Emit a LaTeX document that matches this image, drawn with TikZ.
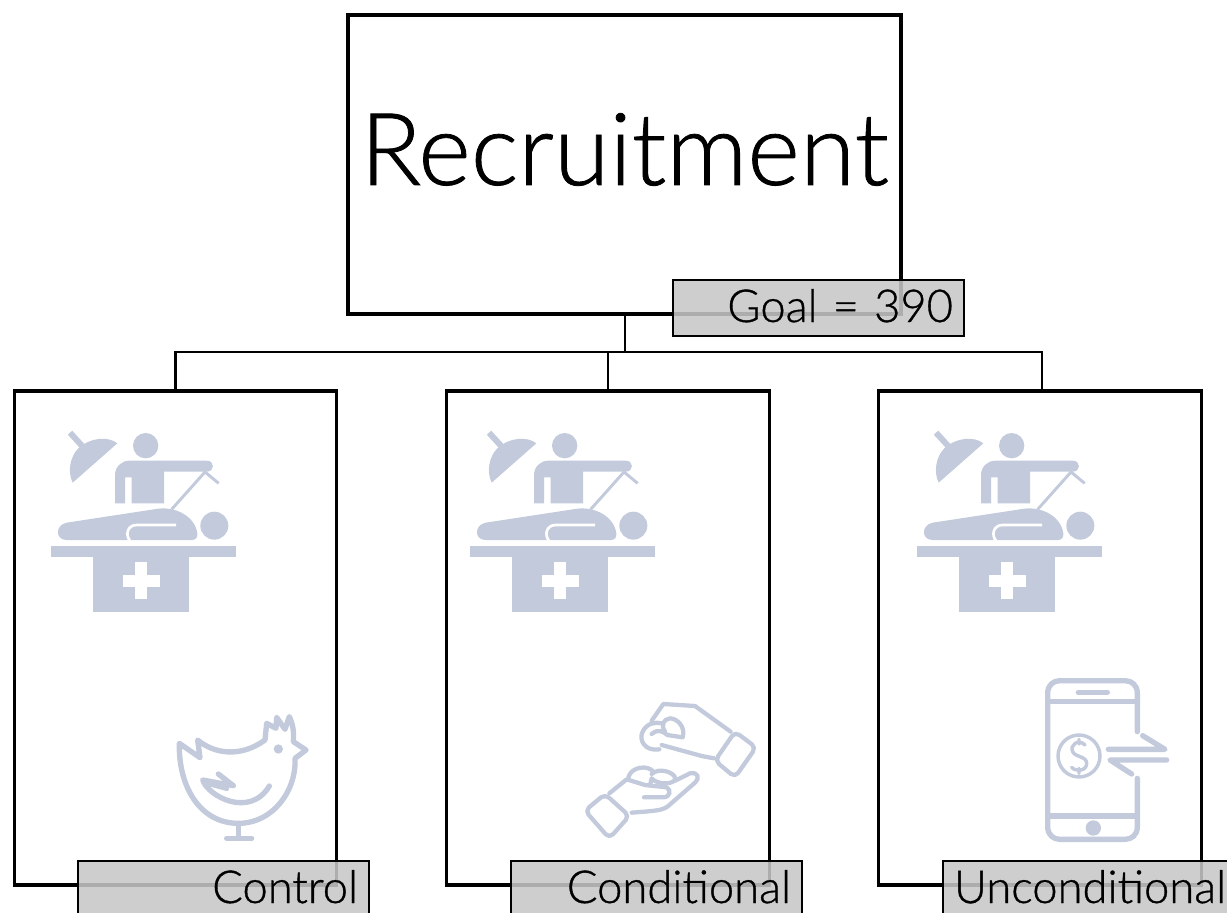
\documentclass[tikz,border=0pt]{standalone}
\usepackage{fontspec}
\setmainfont{Lato Light}[FakeBold=0.8,WordSpace=0.7]
\tikzset{
  x=0.75pt,y=-0.75pt,
  mainbox/.style={draw=black,line width=2.6pt,inner sep=0pt,text width=414.75pt,align=center,text height=127.5pt,text depth=96.75pt,font=\fontsize{75.5}{76}\selectfont},
  armbox/.style={draw=black,line width=2.4pt,inner sep=0pt,minimum width=242pt,minimum height=370.5pt},
  tagbox/.style={draw=black,line width=1.7pt,fill=tagfill,fill opacity=.87,text opacity=1,inner ysep=0pt,inner xsep=8.25pt,text width=201.75pt,align=right,text height=31.5pt,text depth=10.5pt,font=\fontsize{34}{34}\selectfont},
  wire/.style={draw=black,line width=1.8pt},
  stem/.style={draw=black,line width=2pt},
  lineicon/.style={draw=iconblue,line width=4pt,line cap=round,line join=round,fill=none},
  thinicon/.style={draw=iconblue,line width=3.2pt,line cap=round,line join=round,fill=none},
  pics/surgery/.style={code={
    \begin{scope}[x=0.25pt,y=-0.25pt]
    \draw[iconblue,line width=4.5pt] (120,68) -- (162,114);
    \fill[iconblue] (262,100) .. controls (235,78) and (180,82) .. (145,115) .. controls (120,140) and (112,185) .. (128,218) -- cycle;
    \fill[iconblue] (347,107) circle (38);
    \fill[iconblue] (255,280) -- (255,195) .. controls (255,170) and (275,152) .. (298,152) -- (530,152) .. controls (555,152) and (555,185) .. (530,185) -- (402,185) -- (402,280) -- (305,280) -- (305,202) -- (285,202) -- (285,280) -- cycle;
    \draw[iconblue,line width=2.2pt] (425,298) -- (525,186) -- (566,220);
    \fill[iconblue] (110,338) -- (385,296) .. controls (440,290) and (495,320) .. (502,370) .. controls (503,382) and (498,390) .. (485,390) -- (110,390) .. controls (75,390) and (75,345) .. (110,338) -- cycle;
    \draw[white,line width=2pt] (438,345) -- (320,345) .. controls (292,345) and (285,375) .. (300,392);
    \fill[iconblue] (553,347) circle (42);
    \fill[iconblue] (63,408) rectangle (617,440);
    \fill[iconblue] (190,440) rectangle (478,607);
    \fill[white] (316,456) rectangle (352,566);
    \fill[white] (280,494) rectangle (390,530);
    \end{scope}
  }},
}
\definecolor{iconblue}{HTML}{C2CADB}
\definecolor{tagfill}{gray}{0.78}
\begin{document}
\begin{tikzpicture}
\useasboundingbox (0,0) rectangle (1227,913);
\clip (0,0) rectangle (1227,913);

% surgery icons
\pic at (30,410) {surgery};
\pic at (449,410) {surgery};
\pic at (896,410) {surgery};

% chicken
\begin{scope}[shift={(150,690)},x=0.25pt,y=-0.25pt]
  \draw[lineicon] (88,160) -- (150,203) -- (143,150) .. controls (190,190) and (270,205) .. (345,150) -- (350,100) -- (378,115) -- (380,82) -- (405,118) -- (418,80) .. controls (430,105) and (432,130) .. (430,155) -- (468,180) -- (435,205) .. controls (440,300) and (370,400) .. (265,400) .. controls (150,400) and (85,290) .. (88,160) -- cycle;
  \fill[iconblue] (385,177) circle (14);
  \draw[lineicon] (265,400) -- (265,445) (230,445) -- (305,445);
  \draw[lineicon] (205,252) -- (250,287) -- (158,270) .. controls (175,320) and (300,385) .. (358,288);
  \draw[lineicon] (175,280) -- (230,295);
\end{scope}

% hands
\begin{scope}[shift={(570,690)},x=0.25pt,y=-0.25pt]
  \draw[thinicon] (245,92) -- (280,42) -- (375,48) -- (482,125) (432,205) -- (395,198) -- (275,165);
  \draw[thinicon,rounded corners=4pt] (495,125) -- (558,172) -- (495,262) -- (435,212) -- cycle;
  \draw[thinicon] (268,178) .. controls (225,185) and (205,150) .. (218,125) .. controls (230,100) and (255,95) .. (275,100);
  \draw[thinicon] (245,132) .. controls (265,115) and (280,125) .. (292,135) -- (338,142) .. controls (348,110) and (320,85) .. (300,85) .. controls (280,88) and (272,105) .. (285,125);
  \draw[thinicon] (175,262) .. controls (185,228) and (235,225) .. (250,245);
  \draw[thinicon] (245,252) .. controls (265,232) and (312,245) .. (316,265) .. controls (315,285) and (260,285) .. (245,265) -- (240,285);
  \draw[thinicon] (118,310) -- (170,268) -- (225,285) -- (290,292) .. controls (305,300) and (300,322) .. (280,322) -- (222,322);
  \draw[thinicon] (316,272) -- (360,250) .. controls (385,245) and (390,265) .. (375,278) -- (298,345) .. controls (280,362) and (260,362) .. (185,368);
  \draw[thinicon,rounded corners=4pt] (105,312) -- (178,378) -- (118,445) -- (45,362) -- cycle;
\end{scope}

% phone
\begin{scope}[shift={(1030,670)},x=0.25pt,y=-0.25pt]
  \draw[lineicon] (322,185) -- (322,70) .. controls (322,45) and (305,32) .. (285,32) -- (90,32) .. controls (70,32) and (53,45) .. (53,70) -- (53,470) .. controls (53,495) and (70,508) .. (90,508) -- (285,508) .. controls (305,508) and (322,495) .. (322,470) -- (322,325);
  \draw[lineicon] (53,95) -- (322,95) (53,438) -- (322,438) (145,67) -- (232,67);
  \fill[iconblue] (190,474) circle (23);
  \draw[thinicon,line width=2.6pt] (147,258) circle (63);
  \draw[thinicon,line width=2.6pt] (165,225) .. controls (145,205) and (118,225) .. (128,245) .. controls (135,262) and (170,258) .. (170,280) .. controls (170,305) and (135,305) .. (125,292) (147,208) -- (147,222) (147,295) -- (147,310);
  \draw[lineicon] (235,238) -- (405,238) -- (338,197);
  \draw[lineicon] (410,270) -- (240,270) -- (305,312);
\end{scope}

% main boxes
\node[mainbox] (recruit) at (624.5,164.5) {Recruitment};
\node[armbox] (control) at (175.5,638) {};
\node[armbox] (conditional) at (608,638) {};
\node[armbox] (unconditional) at (1040,638) {};

% connectors
\coordinate (hub) at (625,352);
\draw[stem] (recruit.south -| hub) -- (hub);
\draw[wire] (hub) -| (control.north);
\draw[wire] (hub) -| (conditional.north);
\draw[wire] (hub) -| ([xshift=1.5pt]unconditional.north);

% tags
\node[tagbox] (goal) at (818.5,308) {Goal = 390};
\node[tagbox] (tagcontrol) at (223.5,889) {Control};
\node[tagbox] (tagconditional) at (656.5,889) {Conditional};
\node[tagbox] (tagunconditional) at (1088.5,889) {Unconditional};
\end{tikzpicture}
\end{document}
